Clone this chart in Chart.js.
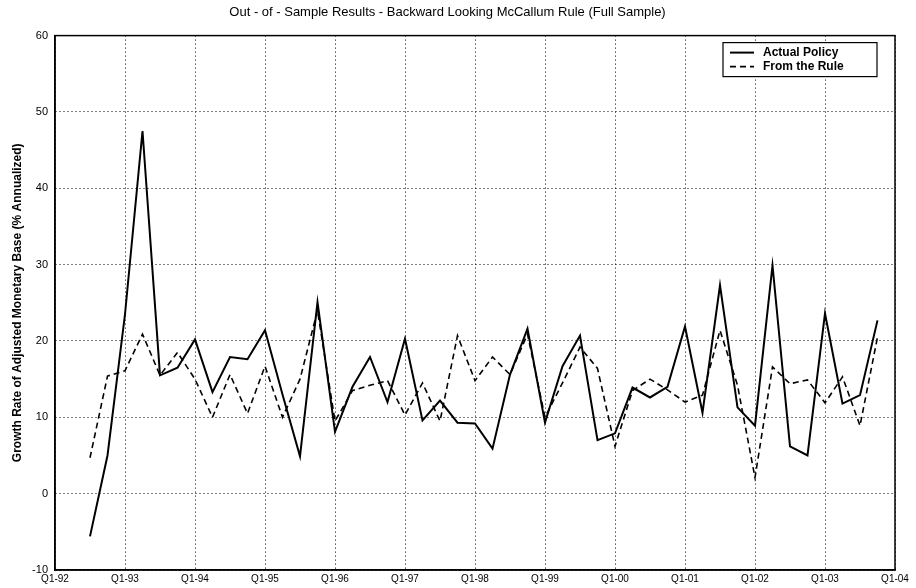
<!DOCTYPE html>
<html>
<head>
<meta charset="utf-8">
<script src="https://cdn.jsdelivr.net/npm/chart.js@4.4.1/dist/chart.umd.min.js"></script>
<style>
  html, body { margin: 0; padding: 0; background: #fff; }
  #wrap { width: 916px; height: 588px; }
</style>
</head>
<body>
<div id="wrap"><canvas id="mccallumChart" width="916" height="588"></canvas></div>
<script>
// quarters counted from Q1-92 (0) to Q1-04 (48)
const tickQuarters = [0, 4, 8, 12, 16, 20, 24, 28, 32, 36, 40, 44, 48];
const tickLabels = ['Q1-92', 'Q1-93', 'Q1-94', 'Q1-95', 'Q1-96', 'Q1-97', 'Q1-98',
                    'Q1-99', 'Q1-00', 'Q1-01', 'Q1-02', 'Q1-03', 'Q1-04'];
const firstQuarter = 2; // series start at Q3-92

// growth rate of adjusted monetary base, % annualized
const actualPolicy = [
    -5.6, 5.0, 23.5, 47.5, 15.5, 16.5, 20.2, 13.3,      // Q3-92 .. Q2-94
    17.9, 17.6, 21.4, 13.0, 4.9, 25.1, 8.1, 14.0,       // Q3-94 .. Q2-96
    17.9, 12.0, 20.3, 9.6, 12.2, 9.3, 9.2, 5.9,         // Q3-96 .. Q2-98
    15.6, 21.6, 9.3, 16.7, 20.7, 7.0, 7.9, 13.9,        // Q3-98 .. Q2-00
    12.6, 14.0, 21.9, 10.6, 27.3, 11.3, 8.9, 29.9,      // Q3-00 .. Q2-02
    6.2, 5.0, 23.6, 11.8, 12.9, 22.7                    // Q3-02 .. Q4-03
];
const fromRule = [
    4.7, 15.4, 16.1, 20.9, 15.5, 18.5, 15.0, 10.0,
    15.6, 10.5, 16.7, 10.0, 15.0, 24.0, 9.5, 13.5,
    14.2, 14.8, 10.3, 14.5, 9.5, 20.7, 14.8, 17.9,
    15.6, 20.9, 10.0, 14.5, 19.2, 16.4, 6.2, 13.5,
    15.0, 13.6, 12.0, 12.9, 21.4, 14.2, 2.1, 16.6,
    14.4, 14.9, 11.9, 15.3, 8.9, 20.5
];
const Y_MIN = -10;
const Y_MAX = 60;
const Y_STEP = 10;

const FONT = '"Liberation Sans", Arial, sans-serif';

function toPoints(values) {
    return values.map((v, i) => ({ x: firstQuarter + i, y: v }));
}

// frame round the plot and the legend box in the upper right corner
const frameAndLegend = {
    id: 'frameAndLegend',
    afterDraw(chart) {
        const ctx = chart.ctx;
        const area = chart.chartArea;
        ctx.save();
        ctx.strokeStyle = '#000';
        ctx.lineWidth = 1.5;
        ctx.strokeRect(area.left, area.top, area.right - area.left, area.bottom - area.top);

        const boxRight = area.right - 18;
        const boxLeft = boxRight - 154;
        const boxTop = area.top + 7;
        const boxH = 34;
        ctx.fillStyle = '#fff';
        ctx.fillRect(boxLeft, boxTop, boxRight - boxLeft, boxH);
        ctx.lineWidth = 1.2;
        ctx.strokeRect(boxLeft, boxTop, boxRight - boxLeft, boxH);

        ctx.font = 'bold 12px ' + FONT;
        ctx.textBaseline = 'middle';
        ctx.fillStyle = '#000';
        chart.data.datasets.forEach((ds, i) => {
            const y = boxTop + 10 + i * 14;
            ctx.beginPath();
            ctx.setLineDash(ds.borderDash || []);
            ctx.lineWidth = ds.borderWidth;
            ctx.moveTo(boxLeft + 7, y);
            ctx.lineTo(boxLeft + 31, y);
            ctx.stroke();
            ctx.setLineDash([]);
            ctx.fillText(ds.label, boxLeft + 40, y);
        });
        ctx.restore();
    }
};

const gridStyle = {
    color: '#000',
    lineWidth: 1,
    drawTicks: false
};

const ctx = document.getElementById('mccallumChart').getContext('2d');
new Chart(ctx, {
    type: 'line',
    data: {
        datasets: [{
            label: 'Actual Policy',
            data: toPoints(actualPolicy),
            borderColor: '#000',
            borderWidth: 2,
            pointRadius: 0,
            tension: 0,
            fill: false
        }, {
            label: 'From the Rule',
            data: toPoints(fromRule),
            borderColor: '#000',
            borderWidth: 1.6,
            borderDash: [6, 4],
            pointRadius: 0,
            tension: 0,
            fill: false
        }]
    },
    options: {
        responsive: false,
        animation: false,
        layout: {
            padding: { left: 0, right: 21, top: 0, bottom: 0 }
        },
        plugins: {
            legend: { display: false },
            tooltip: { enabled: false },
            title: {
                display: true,
                text: 'Out - of - Sample Results - Backward Looking McCallum Rule (Full Sample)',
                color: '#000',
                font: { family: FONT, size: 13, weight: 'normal' },
                padding: { top: 5, bottom: 15 }
            }
        },
        scales: {
            x: {
                type: 'linear',
                min: 0,
                max: 48,
                afterBuildTicks: (scale) => {
                    scale.ticks = tickQuarters.map(v => ({ value: v }));
                },
                afterFit: (scale) => { scale.height = 18; },
                ticks: {
                    autoSkip: false,
                    maxRotation: 0,
                    padding: 3,
                    color: '#000',
                    font: { family: FONT, size: 10 },
                    callback: (value) => tickLabels[tickQuarters.indexOf(value)]
                },
                grid: Object.assign({}, gridStyle),
                border: { display: true, color: '#000', width: 1.5, dash: [1, 3] }
            },
            y: {
                min: Y_MIN,
                max: Y_MAX,
                afterFit: (scale) => { scale.width = 55; },
                ticks: {
                    stepSize: Y_STEP,
                    padding: 7,
                    color: '#000',
                    font: { family: FONT, size: 11 }
                },
                grid: Object.assign({}, gridStyle),
                border: { display: true, color: '#000', width: 1.5, dash: [1, 3] },
                title: {
                    display: true,
                    text: 'Growth Rate of Adjusted Monetary Base (% Annualized)',
                    color: '#000',
                    padding: { top: 10, bottom: 2 },
                    font: { family: FONT, size: 12, weight: 'bold' }
                }
            }
        }
    },
    plugins: [frameAndLegend]
});
</script>
</body>
</html>
